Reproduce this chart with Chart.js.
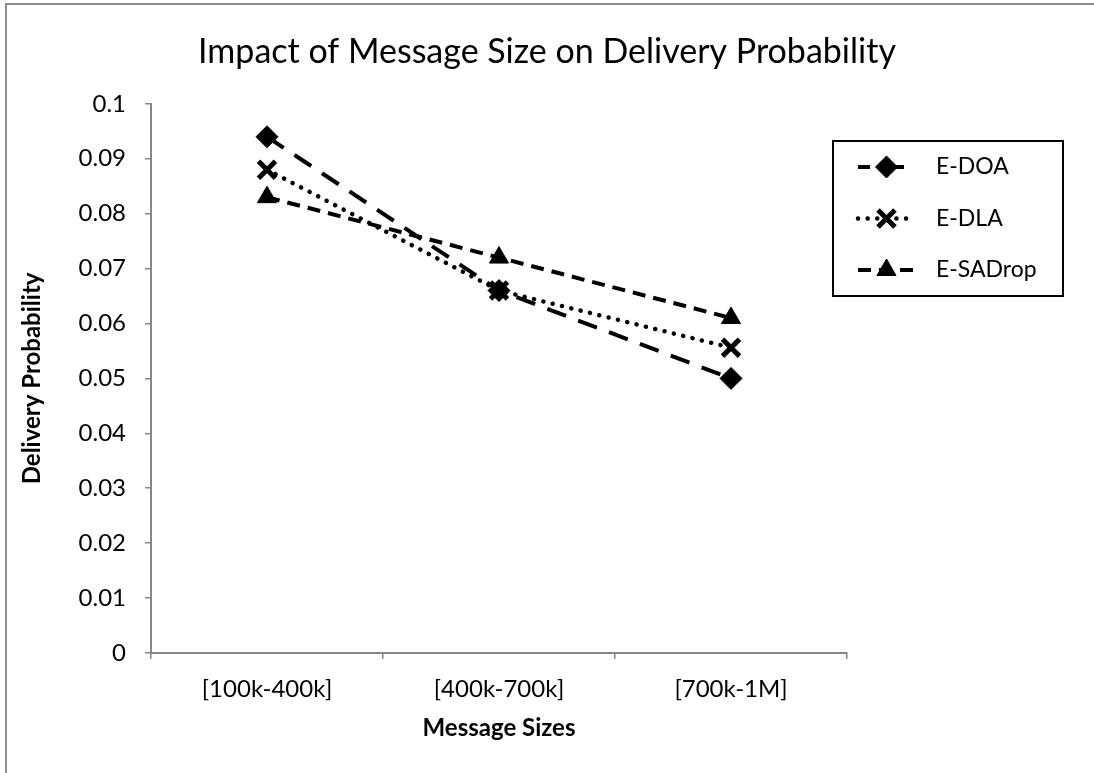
<!DOCTYPE html>
<html>
<head>
<meta charset="utf-8">
<title>Impact of Message Size on Delivery Probability</title>
<script src="https://cdn.jsdelivr.net/npm/chart.js@4.4.1/dist/chart.umd.min.js"></script>
<style>
  html, body { margin: 0; padding: 0; background: #ffffff; overflow: hidden; }
  #frame {
    position: absolute; left: 5px; top: 3px; width: 2000px; height: 2000px;
    border-top: 2px solid #8c8c8c; border-left: 2px solid #8c8c8c;
  }
  #wrap { position: absolute; left: 0; top: 0; width: 1094px; height: 773px; }
</style>
</head>
<body>
<div id="frame"></div>
<div id="wrap"><canvas id="chart" width="1094" height="773"></canvas></div>
<script>
// Message size buckets on the x axis
const categories = ['[100k-400k]', '[400k-700k]', '[700k-1M]'];

// Delivery probability per protocol
const eDOA = [0.094, 0.066, 0.050];
const eDLA = [0.088, 0.066, 0.0556];
const eSADrop = [0.083, 0.072, 0.061];

const seriesNames = ['E-DOA', 'E-DLA', 'E-SADrop'];

const FONT = 'Lato, "Open Sans", sans-serif';

// Boxed legend on the right: a short styled line with the marker in the middle
const boxLegend = {
  id: 'boxLegend',
  afterDraw(chart) {
    const ctx = chart.ctx;
    const ca = chart.chartArea;
    const left = ca.right - 14, top = 141, right = left + 230, bottom = 296;
    ctx.save();
    ctx.strokeStyle = '#000';
    ctx.lineWidth = 2;
    ctx.strokeRect(left, top, right - left, bottom - top);
    chart.data.datasets.forEach((ds, i) => {
      const y = 167 + i * 51.5;
      const x0 = left + 25, x1 = left + 82, xm = (x0 + x1) / 2;
      ctx.save();
      ctx.strokeStyle = ds.borderColor;
      ctx.lineWidth = ds.borderWidth;
      ctx.lineCap = ds.borderCapStyle || 'butt';
      ctx.setLineDash(ds.legendDash || ds.borderDash || []);
      ctx.beginPath();
      ctx.moveTo(x0, y);
      ctx.lineTo(x1, y);
      ctx.stroke();
      ctx.restore();
      ctx.save();
      ctx.fillStyle = ds.pointBackgroundColor;
      ctx.strokeStyle = ds.pointBorderColor;
      ctx.lineWidth = ds.pointBorderWidth;
      ctx.lineCap = 'butt';
      Chart.helpers.drawPoint(ctx, {
        pointStyle: ds.pointStyle,
        radius: ds.pointRadius,
        borderWidth: ds.pointBorderWidth,
        rotation: 0
      }, xm, y);
      ctx.restore();
      ctx.fillStyle = '#000';
      ctx.font = '23px ' + FONT;
      ctx.textAlign = 'left';
      ctx.textBaseline = 'middle';
      ctx.fillText(ds.label, left + 103, y);
    });
    ctx.restore();
  }
};

function series(label, data, dash, style, radius, bw, extra) {
  return Object.assign({
    label: label,
    data: data,
    borderColor: '#000',
    backgroundColor: '#000',
    borderWidth: 4,
    borderDash: dash,
    pointStyle: style,
    pointRadius: radius,
    pointHoverRadius: radius,
    pointBorderWidth: bw,
    pointBackgroundColor: '#000',
    pointBorderColor: '#000',
    tension: 0,
    fill: false
  }, extra || {});
}

const datasets = [
  series(seriesNames[0], eDOA, [20, 13], 'rectRot', 11, 1, { legendDash: [12, 22] }),
  series(seriesNames[1], eDLA, [0.1, 9.5], 'crossRot', 12, 5, { borderCapStyle: 'round', borderWidth: 4.5 }),
  series(seriesNames[2], eSADrop, [13, 8], 'triangle', 11, 1)
];

Chart.defaults.font.family = FONT;
Chart.defaults.color = '#000';

new Chart(document.getElementById('chart'), {
  type: 'line',
  data: { labels: categories, datasets: datasets },
  plugins: [boxLegend],
  options: {
    responsive: false,
    animation: false,
    events: [],
    layout: { padding: 0 },
    plugins: {
      legend: { display: false },
      tooltip: { enabled: false },
      title: {
        display: true,
        text: 'Impact of Message Size on Delivery Probability',
        color: '#000',
        font: { size: 34, weight: 'normal' },
        padding: { top: 32, bottom: 31 }
      }
    },
    scales: {
      x: {
        type: 'category',
        offset: true,
        afterFit(scale) { scale.height = 120; },
        grid: { offset: true, drawOnChartArea: false, drawTicks: true, tickLength: 6, color: '#868686', lineWidth: 1.5 },
        border: { display: true, color: '#868686', width: 2 },
        ticks: { font: { size: 24 }, color: '#000', padding: 16, maxRotation: 0 },
        title: { display: true, text: 'Message Sizes', font: { size: 24, weight: 'bold' }, color: '#000', padding: { top: 0, bottom: 30 } }
      },
      y: {
        min: 0,
        max: 0.1,
        afterFit(scale) { scale.width = 151; },
        grid: { drawOnChartArea: false, drawTicks: true, tickLength: 6, color: '#868686', lineWidth: 1.5 },
        border: { display: true, color: '#868686', width: 2 },
        ticks: {
          stepSize: 0.01,
          font: { size: 24 },
          color: '#000',
          padding: 19,
          callback: (v) => String(+v.toFixed(2))
        },
        title: { display: true, text: 'Delivery Probability', font: { size: 24, weight: 'bold' }, color: '#000', padding: { top: 18, bottom: 0 } }
      },
      // blank strip on the right that holds the legend
      side: {
        type: 'linear',
        position: 'right',
        display: true,
        afterFit(scale) { scale.width = 247; },
        grid: { display: false },
        border: { display: false },
        ticks: { display: false }
      }
    }
  }
});
</script>
</body>
</html>
